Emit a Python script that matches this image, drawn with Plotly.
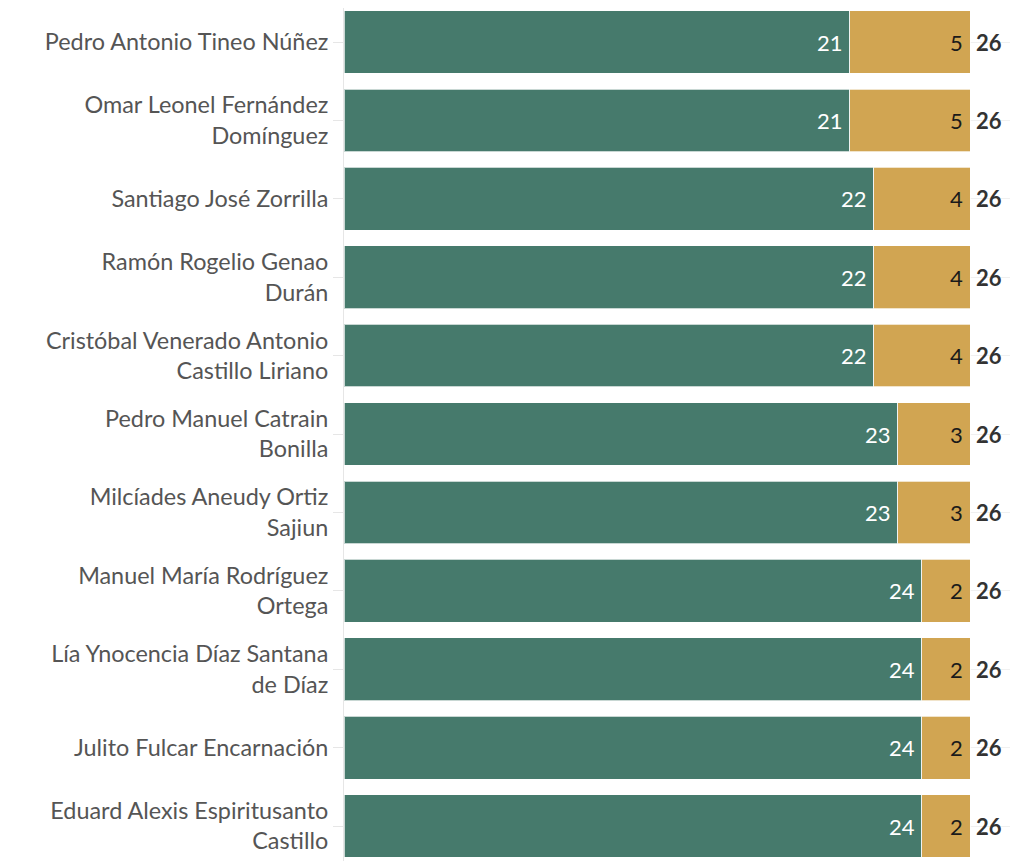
import plotly.graph_objects as go

names = [
    "Pedro Antonio Tineo Núñez",
    "Omar Leonel Fernández<br>Domínguez",
    "Santiago José Zorrilla",
    "Ramón Rogelio Genao<br>Durán",
    "Cristóbal Venerado Antonio<br>Castillo Liriano",
    "Pedro Manuel Catrain<br>Bonilla",
    "Milcíades Aneudy Ortiz<br>Sajiun",
    "Manuel María Rodríguez<br>Ortega",
    "Lía Ynocencia Díaz Santana<br>de Díaz",
    "Julito Fulcar Encarnación",
    "Eduard Alexis Espiritusanto<br>Castillo",
]
green_vals = [21, 21, 22, 22, 22, 23, 23, 24, 24, 24, 24]
gold_vals = [5, 5, 4, 4, 4, 3, 3, 2, 2, 2, 2]
totals = [g + o for g, o in zip(green_vals, gold_vals)]

pos = list(range(len(names)))
font = "Lato, 'Source Sans Pro', sans-serif"
fs = 22

fig = go.Figure()
fig.add_trace(go.Bar(
    y=pos, x=green_vals, orientation="h", width=0.8,
    marker=dict(color="#467a6c", line=dict(color="rgba(255,255,255,0.7)", width=1)),
    hoverinfo="skip",
))
fig.add_trace(go.Bar(
    y=pos, x=gold_vals, orientation="h", width=0.8,
    marker=dict(color="#d1a552", line=dict(color="rgba(255,255,255,0.7)", width=1)),
    hoverinfo="skip",
))

# value labels
for p, g, t in zip(pos, green_vals, totals):
    fig.add_annotation(x=g, y=p, text=str(g), showarrow=False, xanchor="right", xshift=-5,
                       font=dict(color="white", size=fs, family=font))
    fig.add_annotation(x=t, y=p, text=str(t - g), showarrow=False, xanchor="right", xshift=-5,
                       font=dict(color="#1a1a1a", size=fs, family=font))
    fig.add_annotation(x=t, y=p, text=f"<b>{t}</b>", showarrow=False, xanchor="left", xshift=4,
                       font=dict(color="#333333", size=fs, family=font))

fig.update_layout(
    barmode="stack",
    width=1024, height=861,
    margin=dict(l=336, r=22, t=0, b=0),
    paper_bgcolor="white", plot_bgcolor="white",
    showlegend=False,
    xaxis=dict(range=[0, 27.66], visible=False),
    yaxis=dict(
        range=[10.548, -0.434],
        tickmode="array", tickvals=pos, ticktext=names,
        tickfont=dict(size=23.4, color="#555555", family=font),
        ticks="outside", ticklen=10, tickcolor="#e6e6e6",
        showline=True, linecolor="#e6e6e6", linewidth=1,
        showgrid=True, gridcolor="#f0f0f0",
        zeroline=False,
    ),
)

fig.write_html("out.html")
